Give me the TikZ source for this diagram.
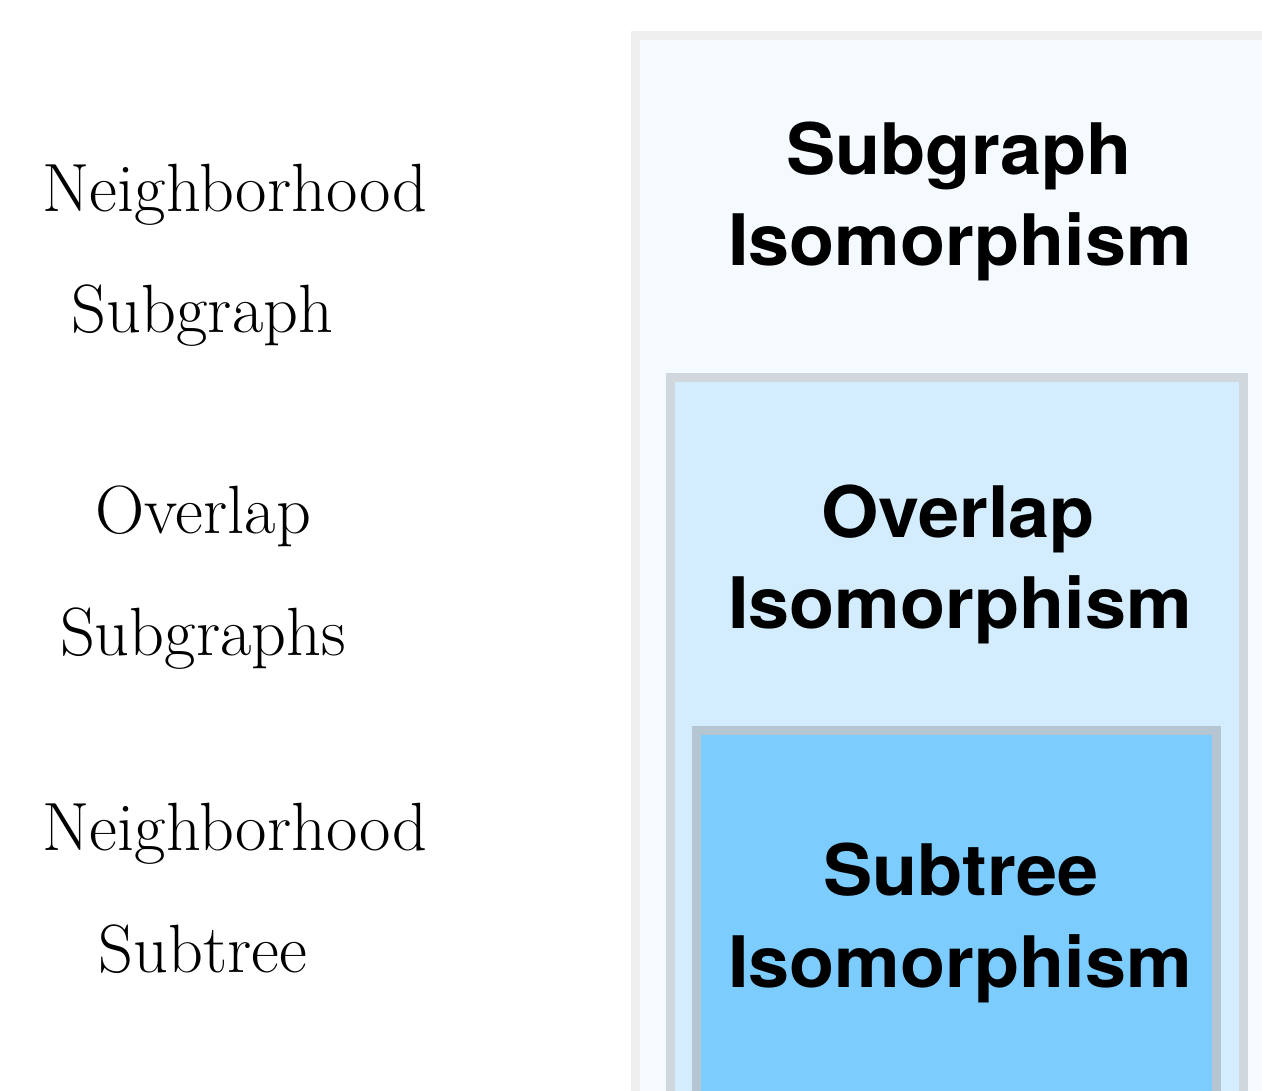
\documentclass[tikz,border=0pt]{standalone}
\usepackage{fontspec}
\newfontfamily\boxfont{TeX Gyre Heros}[FakeStretch=1.04]
\definecolor{outerfill}{HTML}{F5FAFF}
\definecolor{outerline}{HTML}{EFEFEF}
\definecolor{midfill}{HTML}{D3EDFE}
\definecolor{midline}{HTML}{D0D7DD}
\definecolor{innerfill}{HTML}{7CCCFE}
\definecolor{innerline}{HTML}{B5C6D2}
\tikzset{
  leftlabel/.style={anchor=base, inner sep=0pt, font=\fontsize{68.3}{80}\selectfont},
  boxlabel/.style={anchor=base, inner sep=0pt, font=\boxfont\bfseries\fontsize{71}{84}\selectfont},
  layer/.style={line width=9pt}
}
\begin{document}
\begin{tikzpicture}[x=1pt,y=-1pt]
\useasboundingbox (0,0) rectangle (1262,1091);
\clip (0,0) rectangle (1262,1091);
\fill[white] (0,0) rectangle (1262,1091);
% nested boxes
\draw[layer, draw=outerline, fill=outerfill] (635.5,35.5) rectangle (1290,1120);
\draw[layer, draw=midline, fill=midfill] (670.5,377.5) rectangle (1243,1120);
\draw[layer, draw=innerline, fill=innerfill] (696.5,730.5) rectangle (1216.5,1120);
% box labels
\node[boxlabel] (sgA) at (959,175) {Subgraph};
\node[boxlabel] (sgB) at (960,266) {Isomorphism};
\node[boxlabel] (ovA) at (958,537) {Overlap};
\node[boxlabel] (ovB) at (960,628) {Isomorphism};
\node[boxlabel] (stA) at (961,895) {Subtree};
\node[boxlabel] (stB) at (960,987) {Isomorphism};
% left labels
\node[leftlabel] (nsA) at (235,212) {Neighborhood};
\node[leftlabel] (nsB) at (202.5,333) {Subgraph};
\node[leftlabel] (osA) at (203,533) {Overlap};
\node[leftlabel] (osB) at (203,655) {Subgraphs};
\node[leftlabel] (ntA) at (235,850) {Neighborhood};
\node[leftlabel] (ntB) at (203,972) {Subtree};
\end{tikzpicture}
\end{document}
